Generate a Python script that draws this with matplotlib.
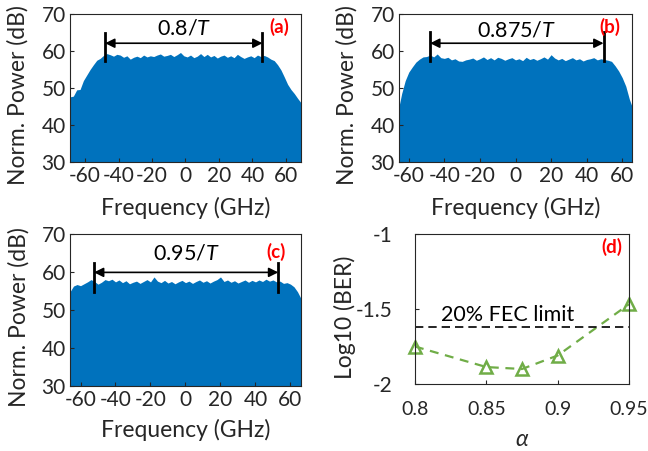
#!/usr/bin/env python3
import matplotlib
matplotlib.use("Agg")
import matplotlib.pyplot as plt

plt.rcParams['font.family'] = ['Lato', 'DejaVu Sans']
plt.rcParams['mathtext.fontset'] = 'custom'
plt.rcParams['mathtext.it'] = 'Lato:italic'
plt.rcParams['mathtext.rm'] = 'Lato'

# spectrum top edge (GHz, dB)
freq_a = [-69, -67, -65, -63, -61, -59, -57, -55, -53, -51, -49, -47, -45,
          -43, -41, -39, -37, -35, -33, -31, -29, -27, -25, -23, -21, -19,
          -17, -15, -13, -11, -9, -7, -5, -3, -1, 1, 3, 5, 7, 9, 11, 13, 15,
          17, 19, 21, 23, 25, 27, 29, 31, 33, 35, 37, 39, 41, 43, 45, 47, 49,
          51, 53, 55, 57, 59, 61, 63, 65, 67, 69]
pow_a = [47.6, 47.8, 49.5, 49.6, 52.0, 53.5, 55.0, 56.3, 57.5, 58.0, 58.8,
         59.3, 59.0, 58.6, 59.1, 58.9, 58.3, 58.7, 57.8, 58.3, 58.6, 58.2,
         58.9, 58.4, 58.7, 58.5, 58.9, 59.2, 58.6, 58.8, 59.1, 58.5, 59.0,
         59.6, 58.7, 58.4, 58.9, 58.2, 58.6, 59.3, 58.5, 59.1, 58.4, 58.8,
         58.1, 58.6, 58.9, 58.3, 58.7, 58.2, 59.1, 58.5, 58.0, 58.4, 58.7,
         58.2, 58.9, 58.5, 58.8, 58.4, 57.8, 57.4, 56.3, 54.9, 53.0, 51.0,
         49.6, 48.5, 47.2, 46.0]

freq_b = [-65.5, -64, -62, -60, -58, -56, -54, -52, -50, -48, -46, -44, -42,
          -40, -38, -36, -34, -32, -30, -28, -26, -24, -22, -20, -18, -16,
          -14, -12, -10, -8, -6, -4, -2, 0, 2, 4, 6, 8, 10, 12, 14, 16, 18,
          20, 22, 24, 26, 28, 30, 32, 34, 36, 38, 40, 42, 44, 46, 48, 50, 52,
          54, 56, 58, 60, 62, 64, 65.5]
pow_b = [45.0, 48.5, 52.0, 54.3, 55.7, 57.0, 57.8, 58.4, 58.5, 58.9, 58.4,
         59.2, 58.2, 58.0, 58.3, 57.6, 57.9, 57.3, 57.2, 57.6, 57.8, 58.1,
         57.5, 57.9, 58.4, 57.7, 58.2, 57.6, 58.3, 58.0, 57.5, 57.9, 58.2,
         57.6, 57.9, 57.4, 58.3, 57.7, 58.0, 57.5, 57.9, 58.4, 57.8, 59.0,
         58.1, 57.6, 58.0, 57.4, 57.8, 58.2, 57.6, 57.9, 57.3, 57.7, 57.9,
         58.2, 57.6, 57.9, 57.7, 57.5, 57.2, 56.0, 54.6, 52.8, 50.5, 47.0,
         45.0]

freq_c = [-66, -64, -62, -60, -58, -56, -54, -52, -50, -48, -46, -44, -42,
          -40, -38, -36, -34, -32, -30, -28, -26, -24, -22, -20, -18, -16,
          -14, -12, -10, -8, -6, -4, -2, 0, 2, 4, 6, 8, 10, 12, 14, 16, 18,
          20, 22, 24, 26, 28, 30, 32, 34, 36, 38, 40, 42, 44, 46, 48, 50, 52,
          54, 56, 58, 60, 62, 64, 66]
pow_c = [54.8, 56.3, 56.7, 56.4, 56.9, 57.4, 58.0, 57.5, 56.8, 57.3, 58.0,
         57.7, 58.1, 57.4, 57.9, 57.2, 57.7, 56.9, 57.3, 57.6, 57.0, 57.5,
         58.0, 57.4, 58.7, 57.6, 57.2, 57.8, 57.1, 57.5, 56.9, 57.4, 57.8,
         57.2, 57.6, 57.0, 57.5, 57.9, 57.3, 57.7, 57.1, 57.6, 58.0, 58.7,
         57.5, 57.9, 57.3, 57.7, 57.1, 57.5, 57.9, 57.3, 57.8, 57.4, 57.9,
         57.5, 58.1, 57.6, 57.9, 57.4, 57.6, 57.0, 57.2, 56.8, 56.1, 54.8,
         53.0]

# BER vs roll-off
alpha = [0.8, 0.85, 0.875, 0.9, 0.95]
log_ber = [-1.75, -1.887, -1.9, -1.81, -1.468]
fec_limit = -1.62

FIG_W, FIG_H = 648, 451
GREY = '#262626'
BLUE = '#0072BD'
GREEN = '#70AD47'
FS = 15      # tick labels
FS_LAB = 16.5  # axis labels
FS_TXT = 15.5  # annotations


def px_axes(fig, left, right, top, bottom):
    """axes placed from pixel edges"""
    ax = fig.add_axes([left / FIG_W, 1 - bottom / FIG_H,
                       (right - left) / FIG_W, (bottom - top) / FIG_H])
    ax.px_size = (right - left, bottom - top)
    return ax


def style(ax):
    for s in ax.spines.values():
        s.set_color(GREY)
        s.set_linewidth(0.8)
    ax.tick_params(direction='in', length=3, width=0.8, colors=GREY,
                   labelsize=FS, pad=3)


def place_labels(ax, xl_off, yl_off, yl_down):
    """label centres given as pixel offsets from the axes edges"""
    w, h = ax.px_size
    ax.xaxis.set_label_coords(0.5, -xl_off / h)
    ax.xaxis.label.set_va('center')
    ax.yaxis.set_label_coords(-yl_off / w, 0.5 - yl_down / h)
    ax.yaxis.label.set_va('center')


def spectrum(ax, f, p, xlim, marks, label, bw, tag_x, tag_y):
    ax.fill_between(f, 30, p, color=BLUE, linewidth=0)
    ax.set_xlim(xlim)
    ax.set_ylim(30, 70)
    ax.set_xticks([-60, -40, -20, 0, 20, 40, 60])
    ax.set_xticklabels(['-60', '-40', '-20', '0', '20', '40', '60'])
    ax.set_yticks([30, 40, 50, 60, 70])
    ax.set_xlabel('Frequency (GHz)', fontsize=FS_LAB, color=GREY)
    ax.set_ylabel('Norm. Power (dB)', fontsize=FS_LAB, color=GREY)
    lo, hi, yl, ya, yt = marks
    ax.plot([lo, lo], [yl, hi], color='black', lw=2)
    ax.plot([bw, bw], [yl, hi], color='black', lw=2)
    ax.annotate('', xy=(lo, ya), xytext=(bw, ya),
                arrowprops=dict(arrowstyle='<|-|>', color='black', lw=1.2,
                                shrinkA=0, shrinkB=0, mutation_scale=14))
    ax.text((lo + bw) / 2, yt, label, ha='center', va='center',
            fontsize=FS_TXT, color='black')
    ax.text(tag_x, tag_y, '(' + 'abc'[spectrum.n] + ')', color='red',
            fontweight='bold', fontsize=13.5, ha='center', va='center')
    spectrum.n += 1
    style(ax)


spectrum.n = 0

fig = plt.figure(figsize=(FIG_W / 100, FIG_H / 100), dpi=100)

ax_a = px_axes(fig, 70, 301, 14, 162)
spectrum(ax_a, freq_a, pow_a, (-69, 69), (-48, 64.9, 57.3, 62.1, 66.0),
         r'0.8/$\mathit{T}$', 46, 56, 66.6)
place_labels(ax_a, 46, 52, 7)

ax_b = px_axes(fig, 399, 632, 14, 162)
spectrum(ax_b, freq_b, pow_b, (-65.5, 65.5), (-48, 65.1, 57.3, 62.1, 65.6),
         r'0.875/$\mathit{T}$', 49.5, 53, 66.6)
place_labels(ax_b, 46, 52, 7)

ax_c = px_axes(fig, 70, 301, 234, 386)
spectrum(ax_c, freq_c, pow_c, (-66, 66), (-52.3, 62.3, 54.8, 59.9, 64.9),
         r'0.95/$\mathit{T}$', 53, 52, 65.3)
place_labels(ax_c, 44, 51, 7)

ax_d = px_axes(fig, 415, 629, 234, 384)
ax_d.plot(alpha, log_ber, color=GREEN, lw=1.6, ls=(0, (4, 3)),
          marker='^', markersize=9, markerfacecolor='none',
          markeredgewidth=1.8, clip_on=False)
ax_d.axhline(fec_limit, color='black', lw=1.2, ls=(0, (5, 3)))
ax_d.text(0.865, fec_limit + 0.012, '20% FEC limit', ha='center',
          va='bottom', fontsize=FS_TXT, color='black')
ax_d.text(0.938, -1.085, '(d)', color='red', fontweight='bold',
          fontsize=13.5, ha='center', va='center')
ax_d.set_xlim(0.8, 0.95)
ax_d.set_ylim(-2, -1)
ax_d.set_xticks([0.8, 0.85, 0.9, 0.95])
ax_d.set_xticklabels(['0.8', '0.85', '0.9', '0.95'])
ax_d.set_yticks([-2, -1.5, -1])
ax_d.set_yticklabels(['-2', '-1.5', '-1'])
ax_d.set_xlabel('α', fontsize=FS_LAB, color=GREY, fontstyle='italic')
ax_d.set_ylabel('Log10 (BER)', fontsize=FS_LAB, color=GREY)
style(ax_d)
ax_d.tick_params(axis='x', pad=12, labelsize=14)
ax_d.tick_params(axis='y', pad=16)
place_labels(ax_d, 56, 70, 8)

fig.savefig('out.png', dpi=100)
